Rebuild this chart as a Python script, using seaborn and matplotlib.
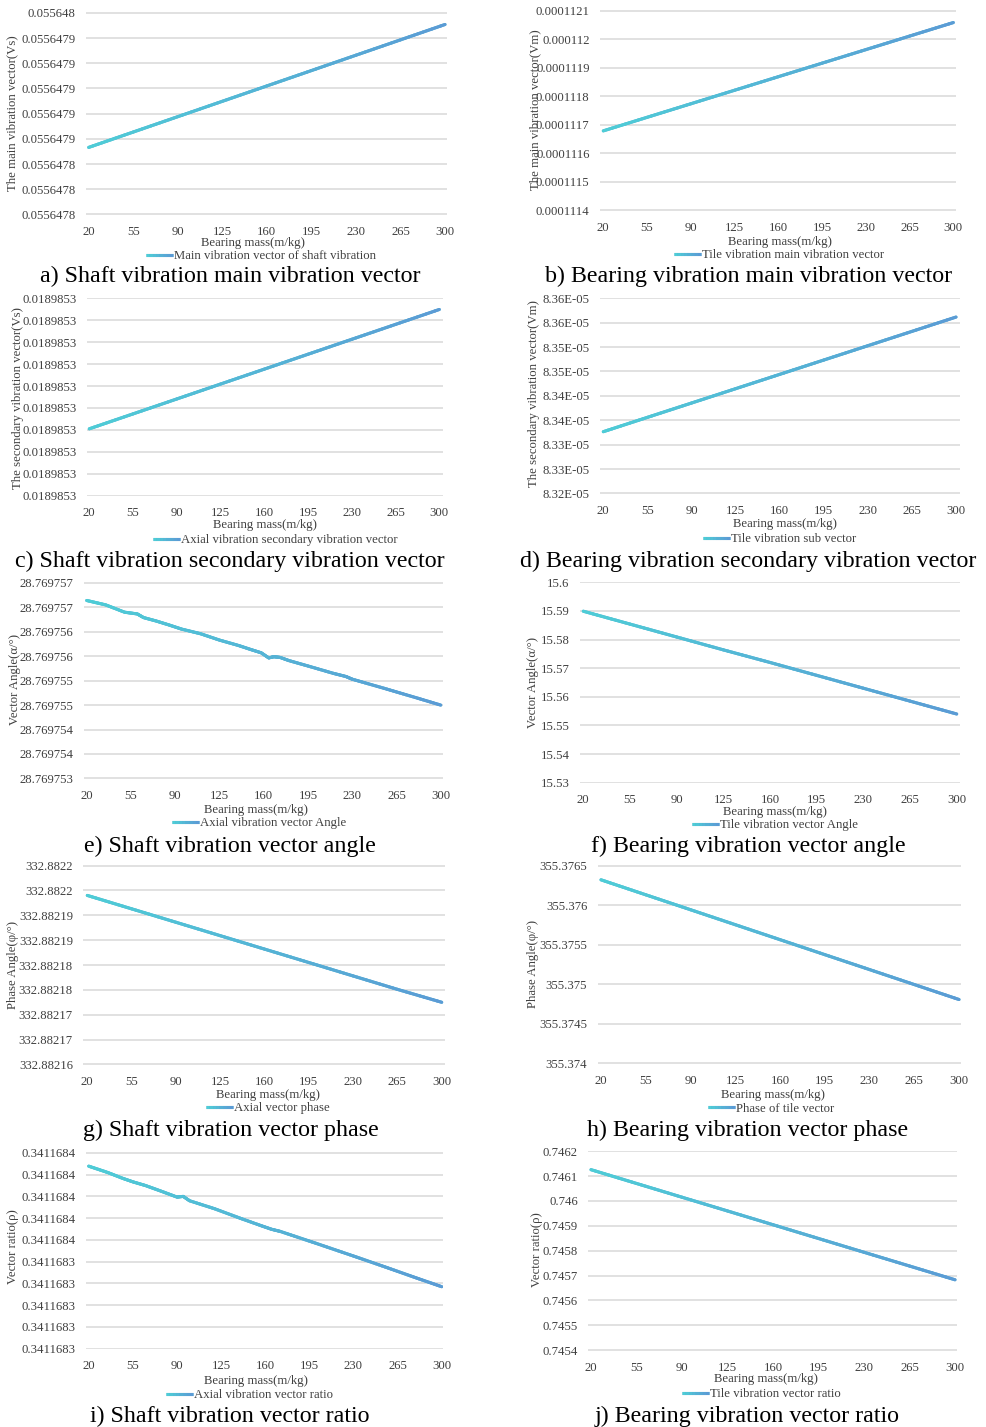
import numpy as np
import pandas as pd
import matplotlib
matplotlib.use("Agg")
import matplotlib.pyplot as plt
from matplotlib.collections import LineCollection
from matplotlib.colors import LinearSegmentedColormap
from matplotlib.legend_handler import HandlerBase
from matplotlib.lines import Line2D
import seaborn as sns

# ---------------------------------------------------------------- data
mass_ticks = [20, 55, 90, 125, 160, 195, 230, 265, 300]

# a) shaft vibration, main vibration vector
a_mass = [20, 55, 90, 125, 160, 195, 230, 265, 300]
a_value = [0.0556478532, 0.0556478654, 0.0556478776, 0.0556478898, 0.0556479020,
           0.0556479142, 0.0556479264, 0.0556479386, 0.0556479508]
a_yticks = [0.05564780, 0.05564782, 0.05564784, 0.05564786, 0.05564788,
            0.05564790, 0.05564792, 0.05564794, 0.05564796]
a_ylabels = ["0.0556478", "0.0556478", "0.0556478", "0.0556479", "0.0556479",
             "0.0556479", "0.0556479", "0.0556479", "0.055648"]

# b) bearing vibration, main vibration vector
b_mass = [20, 55, 90, 125, 160, 195, 230, 265, 300]
b_value = [0.000111678, 0.0001117255, 0.000111773, 0.0001118205, 0.000111868,
           0.0001119155, 0.000111963, 0.0001120105, 0.000112058]
b_yticks = [0.0001114, 0.0001115, 0.0001116, 0.0001117, 0.0001118,
            0.0001119, 0.0001120, 0.0001121]
b_ylabels = ["0.0001114", "0.0001115", "0.0001116", "0.0001117", "0.0001118",
             "0.0001119", "0.000112", "0.0001121"]

# c) shaft vibration, secondary vibration vector
c_mass = [20, 55, 90, 125, 160, 195, 230, 265, 300]
c_value = [0.01898530305, 0.01898530373, 0.01898530441, 0.01898530509, 0.01898530577,
           0.01898530645, 0.01898530713, 0.01898530781, 0.01898530849]
c_yticks = [0.018985300, 0.018985301, 0.018985302, 0.018985303, 0.018985304,
            0.018985305, 0.018985306, 0.018985307, 0.018985308, 0.018985309]
c_ylabels = ["0.0189853"] * 10

# d) bearing vibration, secondary vibration vector
d_mass = [20, 55, 90, 125, 160, 195, 230, 265, 300]
d_value = [8.33265e-05, 8.335588e-05, 8.338525e-05, 8.341463e-05, 8.34440e-05,
           8.347338e-05, 8.350275e-05, 8.353213e-05, 8.35615e-05]
d_yticks = [8.320e-05, 8.325e-05, 8.330e-05, 8.335e-05, 8.340e-05,
            8.345e-05, 8.350e-05, 8.355e-05, 8.360e-05]
d_ylabels = ["8.32E-05", "8.33E-05", "8.33E-05", "8.34E-05", "8.34E-05",
             "8.35E-05", "8.35E-05", "8.36E-05", "8.36E-05"]

# e) shaft vibration, vector angle
e_mass = [20, 35, 50, 60, 65, 75, 85, 95, 110, 125, 140, 150, 158, 164, 168, 173,
          180, 195, 215, 225, 230, 255, 280, 300]
e_value = [28.76975664, 28.76975655, 28.76975640, 28.769756365, 28.76975629,
           28.76975622, 28.76975614, 28.769756055, 28.76975596, 28.76975583,
           28.76975572, 28.769755635, 28.76975557, 28.769755465, 28.76975549,
           28.769755475, 28.76975541, 28.76975530, 28.76975515, 28.769755085,
           28.76975503, 28.769754845, 28.769754655, 28.7697545]
e_yticks = [28.769753, 28.7697535, 28.769754, 28.7697545, 28.769755,
            28.7697555, 28.769756, 28.7697565, 28.769757]
e_ylabels = ["28.769753", "28.769754", "28.769754", "28.769755", "28.769755",
             "28.769756", "28.769756", "28.769757", "28.769757"]

# f) bearing vibration, vector angle
f_mass = [20, 55, 90, 125, 160, 195, 230, 265, 300]
f_value = [15.5899, 15.5854, 15.5809, 15.5764, 15.5720, 15.5675, 15.5630, 15.5585, 15.5540]
f_yticks = [15.53, 15.54, 15.55, 15.56, 15.57, 15.58, 15.59, 15.60]
f_ylabels = ["15.53", "15.54", "15.55", "15.56", "15.57", "15.58", "15.59", "15.6"]

# g) shaft vibration, vector phase
g_mass = [20, 55, 90, 125, 160, 195, 230, 265, 300]
g_value = [332.882194, 332.8821913, 332.8821886, 332.8821859, 332.8821832,
           332.8821805, 332.8821778, 332.8821751, 332.8821725]
g_yticks = [332.88216, 332.882165, 332.88217, 332.882175, 332.88218,
            332.882185, 332.88219, 332.882195, 332.8822]
g_ylabels = ["332.88216", "332.88217", "332.88217", "332.88218", "332.88218",
             "332.88219", "332.88219", "332.8822", "332.8822"]

# h) bearing vibration, vector phase
h_mass = [20, 55, 90, 125, 160, 195, 230, 265, 300]
h_value = [355.37632, 355.3761305, 355.3759415, 355.375752, 355.3755625,
           355.375373, 355.375184, 355.3749945, 355.374805]
h_yticks = [355.374, 355.3745, 355.375, 355.3755, 355.376, 355.3765]
h_ylabels = ["355.374", "355.3745", "355.375", "355.3755", "355.376", "355.3765"]

# i) shaft vibration, vector ratio
i_mass = [20, 35, 47, 55, 65, 77, 90, 95, 100, 120, 140, 157, 165, 172,
          200, 230, 255, 280, 300]
i_value = [0.3411684278, 0.341168422, 0.3411684166, 0.3411684134, 0.34116841,
           0.341168405, 0.3411683994, 0.3411684, 0.341168396, 0.3411683886,
           0.34116838, 0.341168373, 0.3411683698, 0.3411683678, 0.341168357,
           0.3411683452, 0.3411683352, 0.341168325, 0.341168317]
i_yticks = [0.34116826, 0.34116828, 0.34116830, 0.34116832, 0.34116834,
            0.34116836, 0.34116838, 0.34116840, 0.34116842, 0.34116844]
i_ylabels = ["0.3411683"] * 5 + ["0.3411684"] * 5

# j) bearing vibration, vector ratio
j_mass = [20, 55, 90, 125, 160, 195, 230, 265, 300]
j_value = [0.746126, 0.7460706, 0.7460152, 0.7459599, 0.7459045,
           0.7458491, 0.7457937, 0.7457384, 0.745683]
j_yticks = [0.7454, 0.7455, 0.7456, 0.7457, 0.7458, 0.7459, 0.7460, 0.7461, 0.7462]
j_ylabels = ["0.7454", "0.7455", "0.7456", "0.7457", "0.7458", "0.7459",
             "0.746", "0.7461", "0.7462"]

# ---------------------------------------------------------------- style
sns.set_theme(style="white")
plt.rcParams["font.family"] = ["Liberation Serif", "DejaVu Serif"]

W, H = 986, 1427
SMALL = 9.2
CAPTION = 17.3
LW = 2.2
TEXT_GREY = "#404040"
GRID = "#D9D9D9"
ramp = LinearSegmentedColormap.from_list("ramp", ["#4ECDD6", "#5B9BD5"])

fig = plt.figure(figsize=(W / 100, H / 100), dpi=100)
fig.patch.set_facecolor("white")


class GradientHandle(HandlerBase):
    """Legend key drawn as a short cyan-to-blue ramp."""

    def create_artists(self, legend, orig_handle, xdescent, ydescent,
                       width, height, fontsize, trans):
        x0, x1 = -xdescent, width - xdescent
        y = height / 2 - ydescent
        base = Line2D([x0, x1], [y, y], color=ramp(0.5), linewidth=LW,
                      solid_capstyle="butt", transform=trans)
        xs = np.linspace(x0, x1, 9)
        pts = np.column_stack([xs, np.full_like(xs, y)])
        segs = np.stack([pts[:-1], pts[1:]], axis=1)
        lc = LineCollection(segs, cmap=ramp, linewidths=LW,
                            capstyle="butt", transform=trans)
        lc.set_array(np.linspace(0, 1, len(segs)))
        lc.set_clim(0, 1)
        return [base, lc]


def draw_panel(mass, value, yticks, ylabels, ylabel, legend_text, caption, lay):
    gl, gr, top, bottom = lay["box"]
    x20, x300 = lay["ends"]
    ax = fig.add_axes([gl / W, 1 - bottom / H, (gr - gl) / W, (bottom - top) / H])

    df = pd.DataFrame({"mass": mass, "value": value})
    sns.lineplot(data=df, x="mass", y="value", ax=ax, color=ramp(0.5),
                 linewidth=LW, legend=False, solid_capstyle="round")

    # colour ramp along the curve, drawn over the base line
    x = np.asarray(mass, float)
    y = np.asarray(value, float)
    xs, ys = [], []
    for k in range(len(x) - 1):
        t = np.linspace(0, 1, 10, endpoint=False)
        xs.append(x[k] + t * (x[k + 1] - x[k]))
        ys.append(y[k] + t * (y[k + 1] - y[k]))
    xs.append(x[-1:])
    ys.append(y[-1:])
    xs = np.concatenate(xs)
    ys = np.concatenate(ys)
    pts = np.column_stack([xs, ys])
    segs = np.stack([pts[:-1], pts[1:]], axis=1)
    lc = LineCollection(segs, cmap=ramp, linewidths=LW, capstyle="round",
                        joinstyle="round")
    lc.set_array((0.5 * (xs[:-1] + xs[1:]) - 20) / 280)
    lc.set_clim(0, 1)
    ax.add_collection(lc)

    ppu = (x300 - x20) / 280.0
    ax.set_xlim(20 - (x20 - gl) / ppu, 300 + (gr - x300) / ppu)
    span = yticks[-1] - yticks[0]
    ax.set_ylim(yticks[0] - span * 0.003, yticks[-1] + span * 0.003)
    ax.set_xticks(mass_ticks, [str(m) for m in mass_ticks])
    ax.set_yticks(yticks, ylabels)
    ax.grid(axis="y", color=GRID, linewidth=1.1)
    ax.grid(axis="x", visible=False)
    for s in ax.spines.values():
        s.set_visible(False)
    ax.tick_params(axis="both", length=0, labelsize=SMALL, labelcolor=TEXT_GREY)
    ax.tick_params(axis="y", pad=7.5)
    ax.tick_params(axis="x", pad=8)
    ax.set_xlabel("")
    ax.set_ylabel("")

    yx, yy = lay["ylabel"]
    fig.text(yx / W, 1 - yy / H, ylabel, rotation=90, ha="center", va="center",
             fontsize=SMALL, color=TEXT_GREY)
    xx, xy = lay["xlabel"]
    fig.text(xx / W, 1 - xy / H, "Bearing mass(m/kg)", ha="center", va="center",
             fontsize=SMALL, color=TEXT_GREY)

    lx, ly = lay["legend"]
    proxy = LineCollection([])
    ax.legend(handles=[proxy], labels=[legend_text],
              handler_map={LineCollection: GradientHandle()},
              loc="center left", bbox_to_anchor=(lx / W, 1 - ly / H),
              bbox_transform=fig.transFigure, frameon=False, fontsize=SMALL,
              labelcolor=TEXT_GREY, handlelength=2.1, handletextpad=0.1,
              borderpad=0, borderaxespad=0)

    cx, cy = lay["caption"]
    fig.text(cx / W, 1 - cy / H, caption, ha="center", va="center",
             fontsize=CAPTION, color="black")
    return ax


panels = [
    (a_mass, a_value, a_yticks, a_ylabels, "The main vibration vector(Vs)",
     "Main vibration vector of shaft vibration", "a) Shaft vibration main vibration vector",
     dict(box=(86, 447, 12.3, 215), ends=(88.7, 445), ylabel=(12, 113.5),
          xlabel=(252.7, 243), legend=(146, 256), caption=(230, 276))),
    (b_mass, b_value, b_yticks, b_ylabels, "The main vibration vector(Vm)",
     "Tile vibration main vibration vector", "b) Bearing vibration main vibration vector",
     dict(box=(600, 956, 10, 210.7), ends=(603.3, 953.3), ylabel=(535, 110),
          xlabel=(780, 242), legend=(674, 255), caption=(749, 276.7))),
    (c_mass, c_value, c_yticks, c_ylabels, "The secondary vibration vector(Vs)",
     "Axial vibration secondary vibration vector", "c) Shaft vibration secondary vibration vector",
     dict(box=(87.3, 442.7, 297.7, 496.3), ends=(89.3, 439.3), ylabel=(18, 398),
          xlabel=(264.7, 525), legend=(153, 540), caption=(230, 561.7))),
    (d_mass, d_value, d_yticks, d_ylabels, "The secondary vibration vector(Vm)",
     "Tile vibration sub vector", "d) Bearing vibration secondary vibration vector",
     dict(box=(600, 960, 297.7, 494), ends=(603.3, 956), ylabel=(534, 393.7),
          xlabel=(784.7, 524), legend=(703, 539), caption=(748, 561))),
    (e_mass, e_value, e_yticks, e_ylabels, "Vector Angle(α/°)",
     "Axial vibration vector Angle", "e) Shaft vibration vector angle",
     dict(box=(84, 443, 582.3, 779), ends=(86.7, 440.7), ylabel=(15, 680),
          xlabel=(256, 810), legend=(172, 823), caption=(230, 846.7))),
    (f_mass, f_value, f_yticks, f_ylabels, "Vector Angle(α/°)",
     "Tile vibration vector Angle", "f) Bearing vibration vector angle",
     dict(box=(580, 960, 581.7, 783.3), ends=(583.3, 956.7), ylabel=(533, 683),
          xlabel=(775, 811.7), legend=(692, 825), caption=(748.3, 846))),
    (g_mass, g_value, g_yticks, g_ylabels, "Phase Angle(φ/°)",
     "Axial vector phase", "g) Shaft vibration vector phase",
     dict(box=(83.3, 445, 865, 1065), ends=(87.3, 441.7), ylabel=(13, 965),
          xlabel=(267.7, 1095), legend=(206, 1108), caption=(230.5, 1130))),
    (h_mass, h_value, h_yticks, h_ylabels, "Phase Angle(φ/°)",
     "Phase of tile vector", "h) Bearing vibration vector phase",
     dict(box=(597.7, 961, 865, 1063.7), ends=(601, 959), ylabel=(533, 964),
          xlabel=(773, 1095), legend=(708, 1108.7), caption=(748, 1130))),
    (i_mass, i_value, i_yticks, i_ylabels, "Vector ratio(ρ)",
     "Axial vibration vector ratio", "i) Shaft vibration vector ratio",
     dict(box=(86, 443.3, 1152.3, 1349.3), ends=(88.7, 441.7), ylabel=(13, 1247),
          xlabel=(256, 1381), legend=(166, 1395), caption=(230, 1416.7))),
    (j_mass, j_value, j_yticks, j_ylabels, "Vector ratio(ρ)",
     "Tile vibration vector ratio", "j) Bearing vibration vector ratio",
     dict(box=(588.3, 956.7, 1150.7, 1350.7), ends=(591, 955), ylabel=(537, 1250),
          xlabel=(765.5, 1379), legend=(682, 1394), caption=(746.7, 1416.7))),
]

for p in panels:
    draw_panel(*p)

fig.savefig("out.png", dpi=100, facecolor="white")
